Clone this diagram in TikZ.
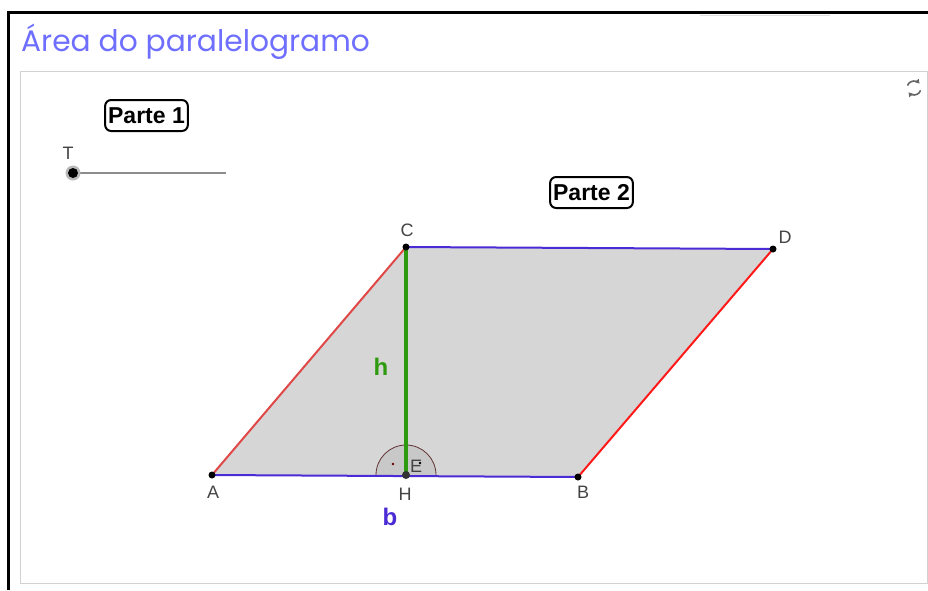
\documentclass[tikz,border=0pt]{standalone}
\usepackage{fontspec}
\setmainfont{Liberation Sans}
\newfontfamily\titlefont{Poppins}
\usetikzlibrary{arrows.meta,calc}
\definecolor{ttl}{HTML}{6F6FFF}
\definecolor{segblue}{HTML}{4B2BD6}
\definecolor{segred}{HTML}{FF1A1A}
\definecolor{segred2}{HTML}{E04848}
\definecolor{seggreen}{HTML}{2E9A10}
\definecolor{polyfill}{HTML}{D6D6D6}
\definecolor{lbl}{HTML}{444444}
\tikzset{
  pt/.style={circle,fill=black,inner sep=0pt,minimum size=7pt},
  ptlabel/.style={font=\fontsize{18}{18}\selectfont,text=lbl,inner sep=0pt},
  partebox/.style={draw=black,line width=2pt,rounded corners=6pt,fill=white,
    font=\bfseries\fontsize{23}{24}\selectfont,inner xsep=3pt,inner ysep=0pt,minimum height=31pt},
}
\begin{document}
\begin{tikzpicture}[x=1pt,y=-1pt]
\useasboundingbox (0,0) rectangle (928,590);
\fill[white] (0,0) rectangle (928,590);
% frame
\draw[line width=3pt] (8.5,590) -- (8.5,12.5) -- (928,12.5);
\draw[gray!25,line width=1pt] (700,15.5) -- (830,15.5);
\draw[gray!35,line width=1pt] (20.5,71.5) rectangle (927.5,583.5);
% title
\node[anchor=west,text=ttl,font=\titlefont\fontsize{29.7}{32}\selectfont,inner sep=0pt] (title) at (21,42) {Área do paralelogramo};
% refresh icon
\begin{scope}[shift={(914,88)}]
\draw[gray!80!black,line width=1.6pt,-{Triangle[length=4pt,width=5pt]}] (200:7) arc (200:320:7);
\draw[gray!80!black,line width=1.6pt,-{Triangle[length=4pt,width=5pt]}] (20:7) arc (20:140:7);
\end{scope}
% points
\coordinate (A) at (212,475);
\coordinate (B) at (578,477);
\coordinate (C) at (406,247);
\coordinate (D) at (773,249);
\coordinate (H) at (406,475);
\fill[polyfill] (A) -- (B) -- (D) -- (C) -- cycle;
% right angle marker
\fill[gray!55,opacity=0.45] ($(H)+(-30,0)$) arc (180:360:30) -- cycle;
\draw[black!70!red!60!gray,line width=0.8pt] ($(H)+(-30,0)$) arc (180:360:30);
\fill[black!60!red] (393,464) circle (1.4pt);
\fill[black] (420,463) circle (1.4pt);
\node[text=lbl,font=\fontsize{18}{18}\selectfont,inner sep=0pt] (E) at (416,466) {E};
% segments
\draw[segred2,line width=2pt] (A) -- (C);
\draw[segred,line width=2pt] (B) -- (D);
\draw[segblue,line width=2pt] (C) -- (D);
\draw[segblue,line width=2pt] (A) -- (B);
\draw[seggreen,line width=3.5pt] (C) -- (H);
% point markers
\node[pt] (pA) at (A) {};
\node[pt] (pB) at (B) {};
\node[pt] (pC) at (C) {};
\node[pt] (pD) at (D) {};
\node[pt,minimum size=8pt,fill=black!80] (pH) at (H) {};
% labels
\node[ptlabel] (lA) at (213,492) {A};
\node[ptlabel] (lB) at (583,492) {B};
\node[ptlabel] (lC) at (407,230) {C};
\node[ptlabel] (lD) at (785,237) {D};
\node[ptlabel] (lH) at (405,494) {H};
\node[text=seggreen,font=\bfseries\fontsize{24}{24}\selectfont,inner sep=0pt] (h) at (381,367) {h};
\node[text=segblue,font=\bfseries\fontsize{24}{24}\selectfont,inner sep=0pt] (b) at (390,517) {b};
% parte boxes
\node[partebox] (p1) at (146.5,115.5) {Parte 1};
\node[partebox] (p2) at (591.5,192.5) {Parte 2};
% slider
\coordinate (s0) at (73,173);
\coordinate (s1) at (226,173);
\draw[gray!90,line width=2pt] (s0) -- (s1);
\fill[gray!55] (s0) circle (7.5pt);
\node[circle,fill=black,inner sep=0pt,minimum size=10pt] (sd) at (s0) {};
\node[ptlabel] (T) at (68,153) {T};
\end{tikzpicture}
\end{document}
